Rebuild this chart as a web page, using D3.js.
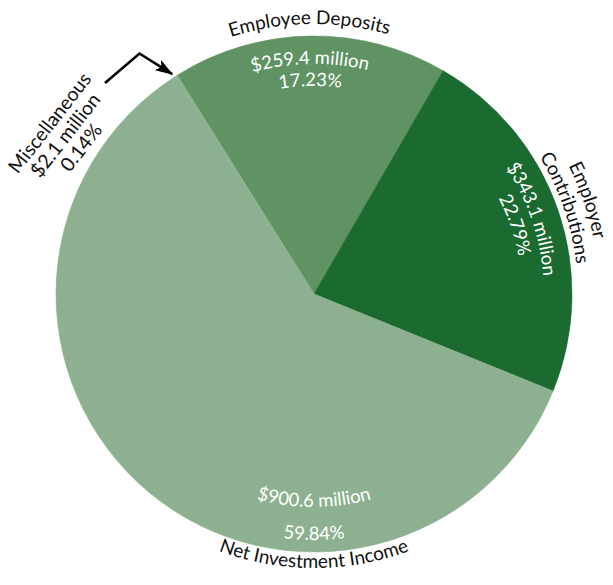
<!DOCTYPE html>
<html>
<head>
<meta charset="utf-8">
<script src="https://cdn.jsdelivr.net/npm/d3@7"></script>
<style>
  html, body { margin: 0; padding: 0; background: #fff; }
  svg { display: block; font-family: "Lato", "Open Sans", sans-serif; }
</style>
</head>
<body>
<svg id="chart" width="613" height="585"></svg>
<script>
// Revenue sources, in millions of dollars
const categories = ["Employee Deposits", "Employer Contributions", "Net Investment Income", "Miscellaneous"];
const amounts = [259.4, 343.1, 900.6, 2.1];
const amountLabels = ["$259.4 million", "$343.1 million", "$900.6 million", "$2.1 million"];
const percentLabels = ["17.23%", "22.79%", "59.84%", "0.14%"];
const colors = ["#5f9364", "#1b6b31", "#8db190", "#8db190"];

const svg = d3.select("#chart");
const cx = 314, cy = 294, R = 258;
const deg = Math.PI / 180;
const start = -32 * deg;

const pie = d3.pie().sort(null).startAngle(start).endAngle(start + 2 * Math.PI);
const arcs = pie(amounts);
const arcGen = d3.arc().innerRadius(0).outerRadius(R);

const g = svg.append("g").attr("transform", `translate(${cx},${cy})`);
const defs = svg.append("defs");

g.selectAll("path.slice")
  .data(arcs)
  .join("path")
  .attr("class", "slice")
  .attr("d", arcGen)
  .attr("fill", (d, i) => colors[i])
  .attr("stroke", (d, i) => colors[i])
  .attr("stroke-width", 0.6)
  .attr("stroke-linejoin", "round");

// point on circle, angle clockwise from 12 o'clock
function pt(r, a) { return [r * Math.sin(a), -r * Math.cos(a)]; }

// circular guide path centred on angle a; clockwise keeps letter tops outward,
// counter-clockwise keeps them toward the centre (for the lower half)
let pathId = 0;
function guide(r, a, clockwise) {
  const half = 80 * deg;
  const p0 = pt(r, a - half), p1 = pt(r, a + half);
  const id = "guide" + (pathId++);
  const d = clockwise
    ? `M${p0[0]},${p0[1]} A${r},${r} 0 0 1 ${p1[0]},${p1[1]}`
    : `M${p1[0]},${p1[1]} A${r},${r} 0 0 0 ${p0[0]},${p0[1]}`;
  defs.append("path").attr("id", id).attr("d", d)
    .attr("transform", `translate(${cx},${cy})`);
  return id;
}

function curvedText(str, r, a, clockwise, size, fill) {
  const id = guide(r, a, clockwise);
  svg.append("text")
    .attr("font-size", size)
    .attr("fill", fill)
    .append("textPath")
    .attr("href", "#" + id)
    .attr("startOffset", "50%")
    .attr("text-anchor", "middle")
    .text(str);
}

const mid = d => (d.startAngle + d.endAngle) / 2;

// Employee Deposits (top)
{
  const a = mid(arcs[0]);
  curvedText(categories[0], 270, a, true, 19, "#111");
  curvedText(amountLabels[0], 230, a, true, 18.5, "#fff");
  curvedText(percentLabels[0], 208, a, true, 18.5, "#fff");
}

// Employer Contributions (right), name split over two lines
{
  const a = mid(arcs[1]);
  const words = categories[1].split(" ");
  curvedText(words[0], 285, a, true, 19, "#111");
  curvedText(words[1], 264, a, true, 19, "#111");
  curvedText(amountLabels[1], 230, a, true, 18.5, "#fff");
  curvedText(percentLabels[1], 208, a, true, 18.5, "#fff");
}

// Net Investment Income, set along the bottom of the circle
{
  const a = Math.PI;
  curvedText(categories[2], 274, a, false, 19, "#111");
  curvedText(amountLabels[2], 213, a, false, 18.5, "#fff");
  curvedText(percentLabels[2], 246, a, false, 18.5, "#fff");
}

// Miscellaneous: straight rotated block with a pointer to its sliver
{
  const lines = [categories[3], amountLabels[3], percentLabels[3]];
  const t = svg.append("text")
    .attr("transform", "translate(55,127) rotate(-52)")
    .attr("font-size", 19.5)
    .attr("fill", "#111")
    .attr("text-anchor", "middle");
  lines.forEach((s, i) => t.append("tspan").attr("x", 0).attr("y", i * 20).text(s));

  defs.append("marker")
    .attr("id", "head")
    .attr("viewBox", "0 0 18 12")
    .attr("refX", 17).attr("refY", 6)
    .attr("markerWidth", 18).attr("markerHeight", 12)
    .attr("markerUnits", "userSpaceOnUse")
    .attr("orient", "auto")
    .append("path").attr("d", "M0,0 L18,6 L0,12 L4,6 Z").attr("fill", "#000");

  const tip = pt(R + 2, mid(arcs[3]));
  svg.append("path")
    .attr("d", `M105,83 L139.5,53.5 L${cx + tip[0] - 3},${cy + tip[1]}`)
    .attr("fill", "none")
    .attr("stroke", "#000")
    .attr("stroke-width", 2.6)
    .attr("marker-end", "url(#head)");
}
</script>
</body>
</html>
